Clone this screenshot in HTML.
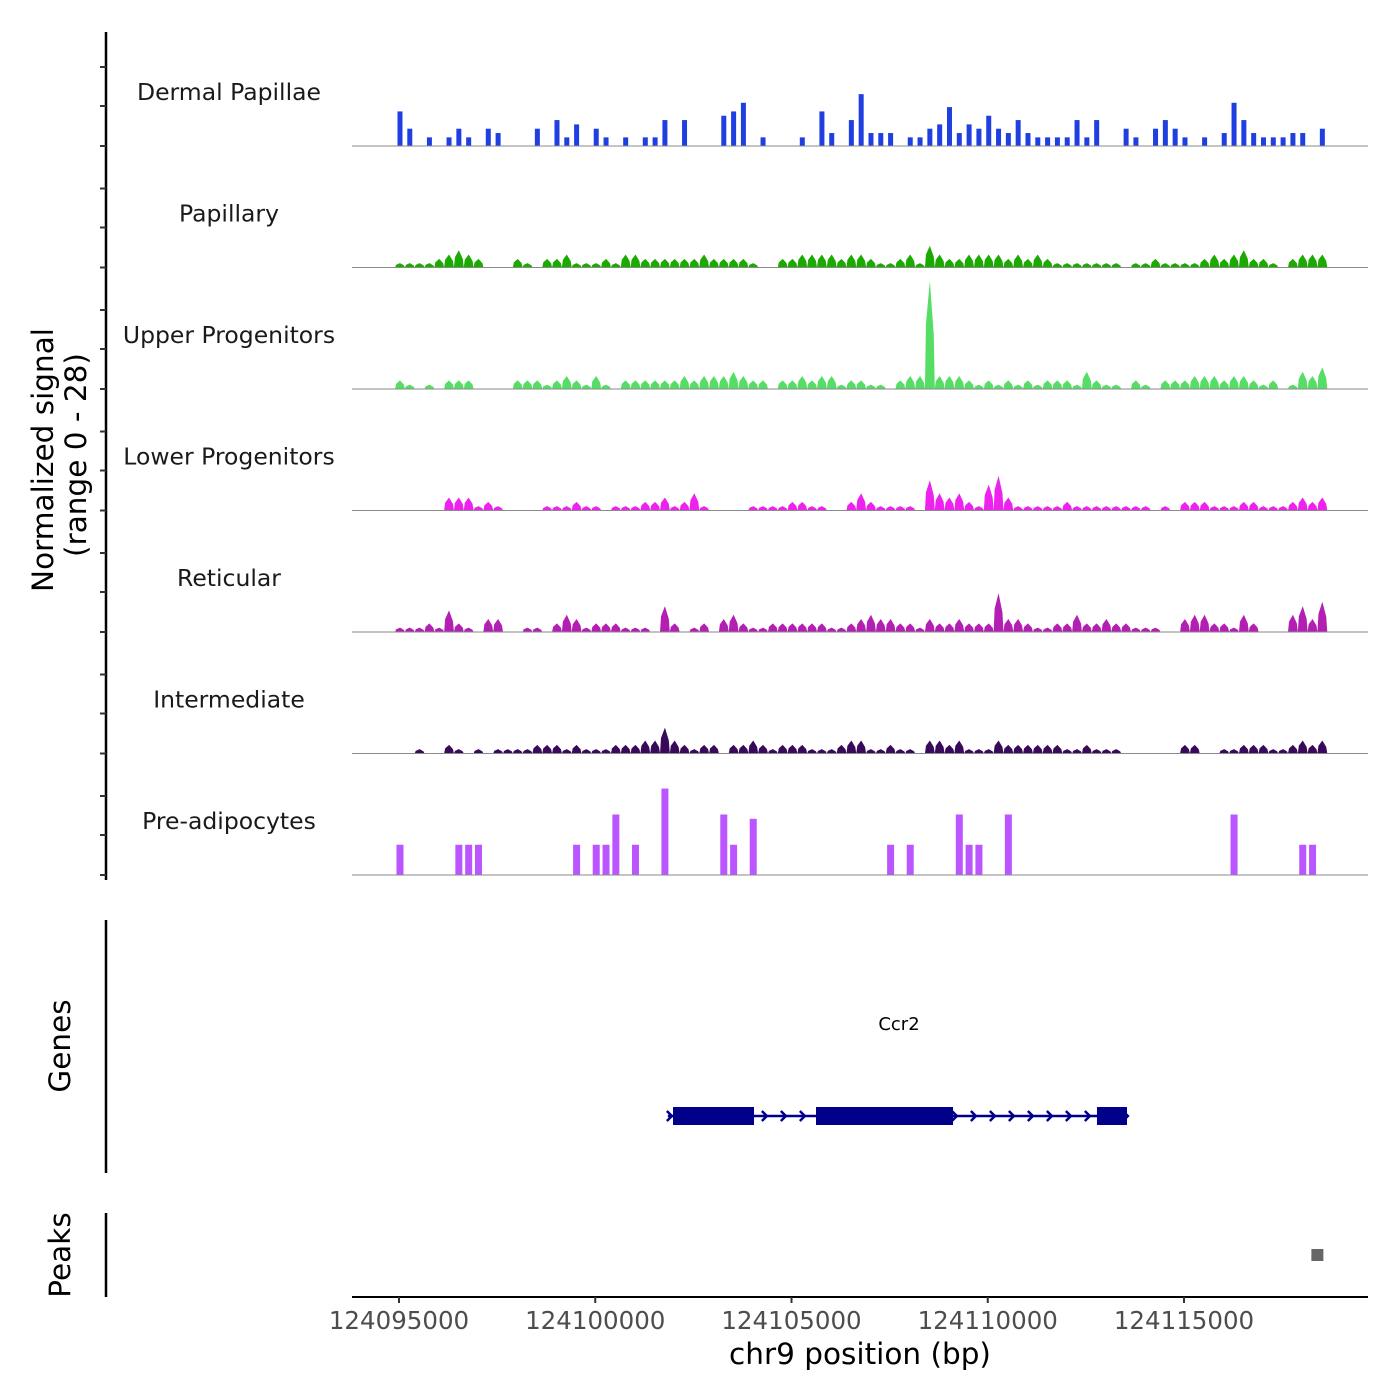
<!DOCTYPE html>
<html><head><meta charset="utf-8"><style>
body{margin:0;background:#fff}
svg{display:block;font-family:"DejaVu Sans","Liberation Sans",sans-serif}
</style></head><body>
<svg id="c" width="1400" height="1400" xmlns="http://www.w3.org/2000/svg"></svg>
<script>
const trackNames=["Dermal Papillae","Papillary","Upper Progenitors","Lower Progenitors","Reticular","Intermediate","Pre-adipocytes"];
const trackColors=["#1f3fe0","#1aaa00","#55dd66","#ee22ee","#b31fb3","#3a0a5a","#bb55ff"];
const binStart=124094900, binSize=250;
const dermal=[8,4,0,2,0,2,4,2,0,4,3,0,0,0,4,0,6,2,5,0,4,2,0,2,0,2,2,6,0,6,0,0,0,7,8,10,0,2,0,0,0,2,0,8,3,0,6,12,3,3,3,0,2,2,4,5,9,3,5,4,7,4,3,6,3,2,2,2,2,6,2,6,0,0,4,2,0,4,6,4,2,0,2,0,3,10,6,3,2,2,2,3,3,0,4];
const papillary=[1,1,1,1,2,3,4,3,2,0,0,0,2,1,0,2,2,3,1,1,1,2,1,3,3,2,2,2,2,2,2,3,2,2,2,2,1,0,0,2,2,3,3,3,3,2,3,3,2,1,1,2,3,1,5,3,2,2,3,3,3,3,2,3,2,3,2,1,1,1,1,1,1,1,0,1,1,2,1,1,1,1,2,3,2,3,4,2,2,1,0,2,3,3,3];
const upper=[2,1,0,1,0,2,2,2,0,0,0,0,2,2,2,1,2,3,2,1,3,1,0,2,2,2,2,2,2,3,2,3,3,3,4,3,2,2,0,2,2,3,2,3,3,1,2,2,1,1,0,2,3,3,25,3,3,3,2,1,2,1,2,1,2,1,2,2,2,1,4,2,1,1,0,2,1,0,2,2,2,3,3,3,2,3,3,2,1,2,0,1,4,3,5];
const lower=[0,0,0,0,0,3,3,3,1,2,1,0,0,0,0,1,1,1,2,1,1,0,1,1,1,2,2,3,1,2,4,1,0,0,0,0,1,1,1,1,2,2,1,1,0,0,2,4,2,1,1,1,1,0,7,4,3,4,2,1,6,8,3,1,1,1,1,1,2,1,1,1,1,1,1,1,1,0,1,0,2,2,2,1,1,1,2,2,1,1,1,2,3,2,3];
const reticular=[1,1,1,2,1,5,2,1,0,3,3,0,0,1,1,0,2,4,3,1,2,2,2,1,1,1,0,6,2,0,1,2,0,3,4,2,1,1,2,2,2,2,2,2,1,1,2,3,4,3,3,2,2,1,3,2,2,3,2,2,2,9,3,3,2,1,1,2,2,4,2,2,3,2,2,1,1,1,0,0,3,4,4,2,2,1,4,2,0,0,0,4,6,3,7];
const intermediate=[0,0,1,0,0,2,1,0,1,0,1,1,1,1,2,2,2,1,2,1,1,1,2,2,2,3,3,6,3,2,1,2,2,0,2,2,3,2,1,2,2,2,1,1,1,2,3,3,1,1,2,1,1,0,3,3,2,3,1,1,1,3,2,2,2,2,2,2,1,1,2,1,1,1,0,0,0,0,0,0,2,2,0,0,1,1,2,2,2,1,1,2,3,2,3];
const preadipo=[7,0,0,0,0,0,7,7,7,0,0,0,0,0,0,0,0,0,7,0,7,7,14,0,7,0,0,20,0,0,0,0,0,14,7,0,13,0,0,0,0,0,0,0,0,0,0,0,0,0,7,0,7,0,0,0,0,14,7,7,0,0,14,0,0,0,0,0,0,0,0,0,0,0,0,0,0,0,0,0,0,0,0,0,0,14,0,0,0,0,0,0,7,7,0];
const trackData=[dermal,papillary,upper,lower,reticular,intermediate,preadipo];
const xTicks=[124095000,124100000,124105000,124110000,124115000];
const geneLine=[124101850,124113548];
const exonStarts=[124101981,124105624,124112783];
const exonEnds=[124104045,124109115,124113548];
const peakStarts=[124118350];
const peakEnds=[124118650];

const NS="http://www.w3.org/2000/svg";
const svg=document.getElementById('c');
const X0=352,X1=1368;
const xs=bp=>399+(bp-124095000)*785/20000;
const yMax=28, trackH=121.5;
const base=i=>146+trackH*i;
const ys=(i,v)=>base(i)-v/yMax*121;
function mk(tag,attrs,parent){const e=document.createElementNS(NS,tag);for(const k in attrs)e.setAttribute(k,attrs[k]);(parent||svg).appendChild(e);return e;}
function txt(s,attrs){const e=mk('text',attrs);e.textContent=s;return e;}

let ax=mk('line',{x1:106,y1:32,x2:106,y2:880,stroke:'#000','stroke-width':2.5});


for(let i=0;i<7;i++){
  for(const d of [0,40,79]){
    const t=mk('line',{x1:100,y1:base(i)-d,x2:106,y2:base(i)-d,stroke:'#333','stroke-width':2});
    
    
  }
}
let yt=txt('Normalized signal',{x:0,y:0,'font-size':29.5,'text-anchor':'middle',transform:'translate(53,460) rotate(-90)',fill:'#000'});


let yt2=txt('(range 0 - 28)',{x:0,y:0,'font-size':29.5,'text-anchor':'middle',transform:'translate(86,455) rotate(-90)',fill:'#000'});



for(let i=0;i<7;i++){
  const g=mk('g',{});
  
  
  const lab=txt(trackNames[i],{x:229,y:base(i)-46,'font-size':23.5,'text-anchor':'middle',fill:'#1a1a1a'});
  
  
  const data=trackData[i];
  const bw=binSize*785/20000;
  if(i===0||i===6){
    const w=i===6?7:5;
    data.forEach((v,k)=>{
      if(v<=0)return;
      const cx=xs(binStart+(k+0.5)*binSize);
      const r=mk('rect',{x:cx-w/2,y:ys(i,v),width:w,height:base(i)-ys(i,v),fill:trackColors[i]},g);
      
      
    });
  } else {
    let d='';
    data.forEach((v,k)=>{
      const x0=xs(binStart+k*binSize), x1=x0+bw, cx=(x0+x1)/2;
      if(v<=0)return;
      d+=`M${x0},${base(i)} L${x0+1},${ys(i,v*0.6)} L${cx},${ys(i,v)} L${x1-1},${ys(i,v*0.5)} L${x1},${base(i)} Z `;
    });
    const p=mk('path',{d:d,fill:trackColors[i]},g);
    
    
  }
  const bl=mk('line',{x1:X0,y1:base(i),x2:X1,y2:base(i),stroke:'#8a8a8a','stroke-width':1},g);
  
  
}

let ga=mk('line',{x1:106,y1:920,x2:106,y2:1173,stroke:'#000','stroke-width':2.5});


let gt=txt('Genes',{x:0,y:0,'font-size':29.5,'text-anchor':'middle',transform:'translate(70,1046) rotate(-90)',fill:'#000'});


const gg=mk('g',{});


const gx0=xs(geneLine[0]),gx1=xs(geneLine[1]);
mk('line',{x1:gx0,y1:1116,x2:gx1,y2:1116,stroke:'#00008b','stroke-width':2.5},gg);
for(let x=gx0+2;x<gx1;x+=19){
  mk('path',{d:`M${x-3},${1111} L${x+2},${1116} L${x-3},${1121}`,stroke:'#00008b','stroke-width':2.5,fill:'none'},gg);
}
exonStarts.forEach((s,k)=>{
  const r=mk('rect',{x:xs(s),y:1107,width:xs(exonEnds[k])-xs(s),height:18,fill:'#00008b'},gg);
  
  
});
let gl=txt('Ccr2',{x:899,y:1030,'font-size':18,'text-anchor':'middle',fill:'#000'});



let pa=mk('line',{x1:106,y1:1213,x2:106,y2:1297,stroke:'#000','stroke-width':2.5});


let pt=txt('Peaks',{x:0,y:0,'font-size':29.5,'text-anchor':'middle',transform:'translate(70,1255) rotate(-90)',fill:'#000'});


peakStarts.forEach((s,k)=>{
  const w=Math.max(12,xs(peakEnds[k])-xs(s));
  const r=mk('rect',{x:(xs(s)+xs(peakEnds[k]))/2-w/2-4,y:1249,width:w,height:12,fill:'#666'});
  
  
});

let xa=mk('line',{x1:X0,y1:1297,x2:X1,y2:1297,stroke:'#000','stroke-width':2});


xTicks.forEach(t=>{
  const x=xs(t);
  const tk=mk('line',{x1:x,y1:1297,x2:x,y2:1303,stroke:'#333','stroke-width':2});
  
  
  const l=txt(String(t),{x:x,y:1329,'font-size':24.5,'text-anchor':'middle',fill:'#4d4d4d'});
  
  
});
let xt=txt('chr9 position (bp)',{x:860,y:1364,'font-size':29.5,'text-anchor':'middle',fill:'#000'});


</script>
</body></html>
